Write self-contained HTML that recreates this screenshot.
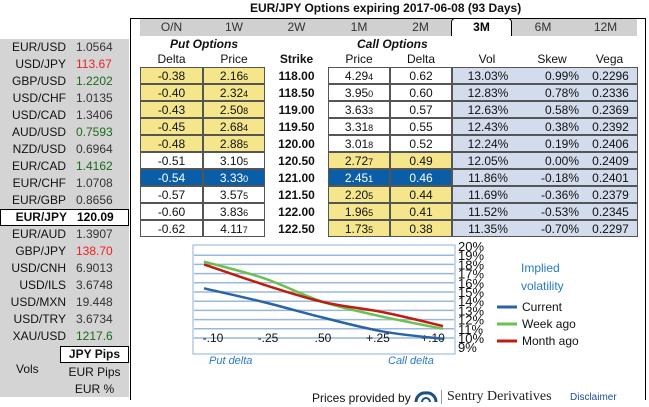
<!DOCTYPE html>
<html><head><meta charset="utf-8"><style>
*{margin:0;padding:0;box-sizing:border-box}
body{width:649px;height:407px;background:#fff;font-family:"Liberation Sans",Arial,sans-serif;position:relative;overflow:hidden;color:#111}
.a{position:absolute}
#left{left:0;top:39px;width:129px;height:358px;background:#d4d4d4}
.lr{position:absolute;left:0;width:129px;height:17px;font-size:12px;line-height:17px}
.lr .n{position:absolute;left:0;width:66px;text-align:right}
.lr .v{position:absolute;left:76px}
#main{left:130px;top:18px;width:516px;height:382px;border:1px solid #000;border-bottom:none}
.tab{position:absolute;top:19px;height:17px;font-size:12px;line-height:17px;text-align:center;background:#d0d0d0;color:#333}
.cell{position:absolute;height:17px;font-size:12px;line-height:16px;text-align:center;border:1px solid #555}
.y{background:#f5e68c}.w{background:#fff}.b{background:#0a5ea8;color:#fff}.lb{background:#d3dcec}
.hd{position:absolute;top:52px;font-size:12px;text-align:center}
small{font-size:9px}
</style></head><body>
<div class="a" style="left:250px;top:1px;font-size:12px;font-weight:bold;white-space:nowrap">EUR/JPY Options expiring 2017-06-08 (93 Days)</div>
<div class="a" id="left"></div>
<div class="a" id="main"></div>
<div id="tabs"></div>
<div class="a" style="left:170px;top:37px;font-size:12px;font-weight:bold;font-style:italic">Put Options</div>
<div class="a" style="left:357px;top:37px;font-size:12px;font-weight:bold;font-style:italic">Call Options</div>
<div id="heads"></div>
<div id="rows"></div>
<svg class="a" style="left:0;top:0" width="649" height="407" id="chart"></svg>
<div class="a" style="left:521px;top:259px;font-size:12px;color:#2a78c8;line-height:18px">Implied<br>volatility</div>
<div class="a" style="left:209px;top:355px;font-size:11px;font-style:italic;color:#2a78c8">Put delta</div>
<div class="a" style="left:388px;top:355px;font-size:11px;font-style:italic;color:#2a78c8">Call delta</div>
<div class="a" style="left:312px;top:391px;font-size:12px;white-space:nowrap">Prices provided by</div>
<svg class="a" style="left:414px;top:390px" width="24" height="14"><path d="M2 12 A9 9 0 0 1 12 3 A9 9 0 0 1 22 12" fill="none" stroke="#1a4f8a" stroke-width="3"/><path d="M8 12 A4 4 0 0 1 16 12" fill="none" stroke="#1a4f8a" stroke-width="2"/></svg>
<div class="a" style="left:441px;top:390px;width:1px;height:14px;background:#999"></div>
<div class="a" style="left:447px;top:389px;font-size:14px;font-family:'Liberation Serif',serif;color:#222;white-space:nowrap">Sentry Derivatives</div>
<div class="a" style="left:570px;top:392px;font-size:10px;color:#1a4f9a">Disclaimer</div>
<script>
const pairs=["EUR/USD","USD/JPY","GBP/USD","USD/CHF","USD/CAD","AUD/USD","NZD/USD","EUR/CAD","EUR/CHF","EUR/GBP","EUR/JPY","EUR/AUD","GBP/JPY","USD/CNH","USD/ILS","USD/MXN","USD/TRY","XAU/USD"];
const rates=["1.0564","113.67","1.2202","1.0135","1.3406","0.7593","0.6964","1.4162","1.0708","0.8656","120.09","1.3907","138.70","6.9013","3.6748","19.448","3.6734","1217.6"];
const rateColors=["#333","#f02020","#1a6a1a","#333","#333","#1a6a1a","#333","#1a6a1a","#333","#333","#000","#333","#f02020","#333","#333","#333","#333","#1a6a1a"];
const tabs=["O/N","1W","2W","1M","2M","3M","6M","12M"];
const putDelta=["-0.38","-0.40","-0.43","-0.45","-0.48","-0.51","-0.54","-0.57","-0.60","-0.62"];
const putPrice=["2.166","2.324","2.508","2.684","2.885","3.105","3.330","3.575","3.836","4.117"];
const strikes=["118.00","118.50","119.00","119.50","120.00","120.50","121.00","121.50","122.00","122.50"];
const callPrice=["4.294","3.950","3.633","3.318","3.018","2.727","2.451","2.205","1.965","1.735"];
const callDelta=["0.62","0.60","0.57","0.55","0.52","0.49","0.46","0.44","0.41","0.38"];
const vols=["13.03%","12.83%","12.63%","12.43%","12.24%","12.05%","11.86%","11.69%","11.52%","11.35%"];
const skews=["0.99%","0.78%","0.58%","0.38%","0.19%","0.00%","-0.18%","-0.36%","-0.53%","-0.70%"];
const vegas=["0.2296","0.2336","0.2369","0.2392","0.2406","0.2409","0.2401","0.2379","0.2345","0.2297"];
const deltaLabels=["-.10","-.25",".50","+.25","+.10"];
const current=[15.4,13.9,12.2,10.7,9.9];
const weekAgo=[18.3,16.5,13.9,12.3,11.0];
const monthAgo=[18.0,15.8,13.9,12.8,11.3];
const yTicks=[20,19,18,17,16,15,14,13,12,11,10,9];

const left=document.getElementById('left');
pairs.forEach((p,i)=>{const d=document.createElement('div');d.className='lr';d.style.top=(i*17)+'px';


if(p==="EUR/JPY"){d.style.background='#fff';d.style.border='1px solid #000';d.style.fontWeight='bold';d.style.lineHeight='15px';}
d.innerHTML='<span class="n">'+p+'</span><span class="v" style="color:'+rateColors[i]+'">'+rates[i]+'</span>';left.appendChild(d);});
[["JPY Pips",307,true],["EUR Pips",325,false],["EUR %",342,false]].forEach(([t,y,s])=>{const d=document.createElement('div');d.className='lr';


d.style.left='60px';d.style.width='69px';d.style.top=y+'px';d.style.textAlign='center';d.textContent=t;
if(s){d.style.background='#fff';d.style.border='1px solid #000';d.style.fontWeight='bold';d.style.lineHeight='15px';}left.appendChild(d);});
const vl=document.createElement('div');vl.className='lr';vl.style.left='16px';vl.style.width='40px';vl.style.top='322px';vl.textContent='Vols';

left.appendChild(vl);

const tx=[140,203,265,328,390,451,512,574,637];
const tabsEl=document.getElementById('tabs');
tabs.forEach((t,i)=>{const d=document.createElement('div');d.className='tab';d.style.left=tx[i]+'px';d.style.width=(tx[i+1]-tx[i])+'px';d.textContent=t;


if(t==='3M'){d.style.background='#fff';d.style.border='1px solid #000';d.style.borderBottom='none';d.style.borderRadius='4px 4px 0 0';d.style.fontWeight='bold';d.style.color='#000';d.style.top='18px';d.style.height='18px';}
tabsEl.appendChild(d);});

const heads=[["Delta",140,63],["Price",203,62],["Strike",265,63],["Price",328,62],["Delta",390,62],["Vol",452,70],["Skew",522,60],["Vega",582,55]];
const hEl=document.getElementById('heads');
heads.forEach(([t,x,w])=>{const d=document.createElement('div');d.className='hd';d.style.left=x+'px';d.style.width=w+'px';d.textContent=t;if(t==='Strike')d.style.fontWeight='bold';

hEl.appendChild(d);});

const rows=document.getElementById('rows');
function fmt(s){return s.slice(0,-1)+'<small>'+s.slice(-1)+'</small>';}
function cell(x,y,w,cls,html,name){const d=document.createElement('div');d.className='cell '+cls;d.style.left=x+'px';d.style.top=y+'px';d.style.width=w+'px';d.innerHTML=html;

rows.appendChild(d);return d;}
strikes.forEach((s,i)=>{const y=67+i*17;
const pc=i<5?'y':(i===6?'b':'w');const cc=i<5?'w':(i===6?'b':'y');
cell(140,y,63,pc,putDelta[i],'put-delta');
cell(203,y,62,pc,fmt(putPrice[i]),'put-price');
const st=document.createElement('div');st.className='a';st.style.cssText='left:265px;top:'+(y+1)+'px;width:63px;text-align:center;font-size:12px;font-weight:bold;line-height:17px';st.textContent=s;

rows.appendChild(st);
cell(328,y,62,cc,fmt(callPrice[i]),'call-price');
cell(390,y,62,cc,callDelta[i],'call-delta');
const v=cell(452,y,186,'lb','','vol-skew-vega');
v.innerHTML='<span style="position:absolute;left:0;width:70px;text-align:center">'+vols[i]+'</span><span style="position:absolute;left:70px;width:56px;text-align:right">'+skews[i]+'</span><span style="position:absolute;left:130px;width:55px;text-align:center">'+vegas[i]+'</span>';});

const svg=document.getElementById('chart');const NS='http://www.w3.org/2000/svg';
const X0=193,X1=455,Y0=245,Y1=354;
const xs=i=>204+i*59.75;
const xl=i=>213+i*55;
const ys=v=>246+(20-v)*9.2;
function el(t,a,n){const e=document.createElementNS(NS,t);for(const k in a)e.setAttribute(k,a[k]);

svg.appendChild(e);return e;}
el('rect',{x:X0,y:Y0,width:X1-X0,height:Y1-Y0,fill:'#fff',stroke:'#8fb0d8','stroke-width':1},'plot-area');
yTicks.forEach(v=>{if(v<20&&v>9)el('line',{x1:X0+1,x2:X1-1,y1:ys(v),y2:ys(v),stroke:'#9ab8dc','stroke-width':1.5},'gridline');
const t=el('text',{x:458,y:ys(v)+5,'font-size':13,'font-family':'Liberation Sans,sans-serif',fill:'#111'},'y-tick-label');t.textContent=v+'%';});
deltaLabels.forEach((l,i)=>{const t=el('text',{x:xl(i),y:342,'font-size':12,'text-anchor':'middle','font-family':'Liberation Sans,sans-serif',fill:'#111'},'x-tick-label');t.textContent=l;});
function path(arr){const P=arr.map((v,i)=>[xs(i),ys(v)]);let d='M'+P[0][0]+' '+P[0][1];
for(let i=0;i<P.length-1;i++){const p0=P[Math.max(i-1,0)],p1=P[i],p2=P[i+1],p3=P[Math.min(i+2,P.length-1)];
const c1=[p1[0]+(p2[0]-p0[0])/6,p1[1]+(p2[1]-p0[1])/6],c2=[p2[0]-(p3[0]-p1[0])/6,p2[1]-(p3[1]-p1[1])/6];
d+=' C'+c1[0]+' '+c1[1]+' '+c2[0]+' '+c2[1]+' '+p2[0]+' '+p2[1];}return d;}
el('path',{d:path(current),fill:'none',stroke:'#2a64a4','stroke-width':2.5},'series-current');
el('path',{d:path(weekAgo),fill:'none',stroke:'#6cc050','stroke-width':2.5},'series-week-ago');
el('path',{d:path(monthAgo),fill:'none',stroke:'#c01c10','stroke-width':2.5},'series-month-ago');
[["Current","#2a64a4",307],["Week ago","#6cc050",324],["Month ago","#c01c10",341]].forEach(([n,c,y])=>{
el('line',{x1:497,x2:517,y1:y,y2:y,stroke:c,'stroke-width':3},'legend-swatch');
const t=el('text',{x:522,y:y+4,'font-size':12,'font-family':'Liberation Sans,sans-serif',fill:'#111'},'legend-entry');t.textContent=n;});
</script>
</body></html>
